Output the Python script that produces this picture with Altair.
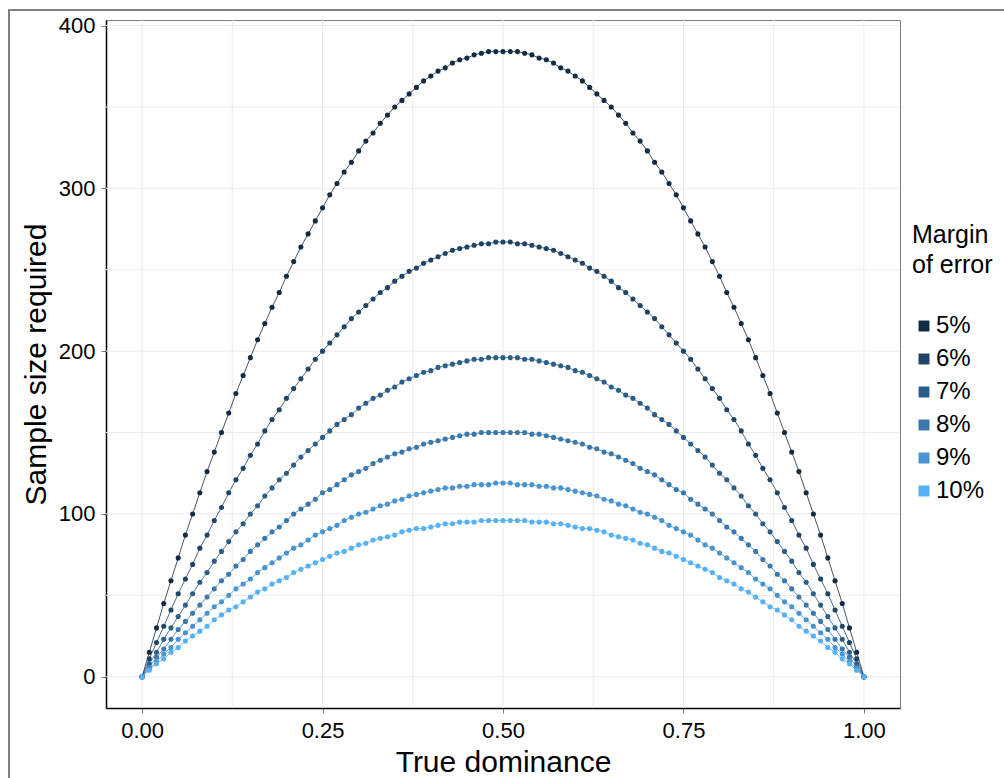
import altair as alt
import pandas as pd

dominance = [round(i * 0.01, 2) for i in range(101)]

margins = ["5%", "6%", "7%", "8%", "9%", "10%"]
colors = ["#132B43", "#1F4466", "#2C5E89", "#3A79AD", "#4894D2", "#56B1F7"]

n_5 = [0, 15, 30, 45, 59, 73, 87, 100, 113, 126, 138, 150, 162, 174, 185, 196, 207, 217, 227, 236, 246, 255, 264, 272, 280, 288, 296, 303, 310, 316, 323, 329, 334, 340, 345, 350, 354, 358, 362, 366, 369, 372, 374, 377, 379, 380, 382, 383, 384, 384, 384,
       384, 384, 383, 382, 380, 379, 377, 374, 372, 369, 366, 362, 358, 354, 350, 345, 340, 334, 329, 323, 316, 310, 303, 296, 288, 280, 272, 264, 255, 246, 236, 227, 217, 207, 196, 185, 174, 162, 150, 138, 126, 113, 100, 87, 73, 59, 45, 30, 15, 0]
n_6 = [0, 11, 21, 31, 41, 51, 60, 69, 79, 87, 96, 104, 113, 121, 128, 136, 143, 151, 158, 164, 171, 177, 183, 189, 195, 200, 205, 210, 215, 220, 224, 228, 232, 236, 239, 243, 246, 249, 251, 254, 256, 258, 260, 262, 263, 264, 265, 266, 266, 267, 267,
       267, 266, 266, 265, 264, 263, 262, 260, 258, 256, 254, 251, 249, 246, 243, 239, 236, 232, 228, 224, 220, 215, 210, 205, 200, 195, 189, 183, 177, 171, 164, 158, 151, 143, 136, 128, 121, 113, 104, 96, 87, 79, 69, 60, 51, 41, 31, 21, 11, 0]
n_7 = [0, 8, 15, 23, 30, 37, 44, 51, 58, 64, 71, 77, 83, 89, 94, 100, 105, 111, 116, 121, 125, 130, 135, 139, 143, 147, 151, 155, 158, 161, 165, 168, 171, 173, 176, 178, 181, 183, 185, 187, 188, 190, 191, 192, 193, 194, 195, 195, 196, 196, 196,
       196, 196, 195, 195, 194, 193, 192, 191, 190, 188, 187, 185, 183, 181, 178, 176, 173, 171, 168, 165, 161, 158, 155, 151, 147, 143, 139, 135, 130, 125, 121, 116, 111, 105, 100, 94, 89, 83, 77, 71, 64, 58, 51, 44, 37, 30, 23, 15, 8, 0]
n_8 = [0, 6, 12, 17, 23, 29, 34, 39, 44, 49, 54, 59, 63, 68, 72, 77, 81, 85, 89, 92, 96, 100, 103, 106, 109, 113, 115, 118, 121, 124, 126, 128, 131, 133, 135, 137, 138, 140, 141, 143, 144, 145, 146, 147, 148, 149, 149, 150, 150, 150, 150,
       150, 150, 150, 149, 149, 148, 147, 146, 145, 144, 143, 141, 140, 138, 137, 135, 133, 131, 128, 126, 124, 121, 118, 115, 113, 109, 106, 103, 100, 96, 92, 89, 85, 81, 77, 72, 68, 63, 59, 54, 49, 44, 39, 34, 29, 23, 17, 12, 6, 0]
n_9 = [0, 5, 9, 14, 18, 23, 27, 31, 35, 39, 43, 46, 50, 54, 57, 60, 64, 67, 70, 73, 76, 79, 81, 84, 87, 89, 91, 93, 96, 98, 100, 101, 103, 105, 106, 108, 109, 111, 112, 113, 114, 115, 116, 116, 117, 117, 118, 118, 118, 119, 119,
       119, 118, 118, 118, 117, 117, 116, 116, 115, 114, 113, 112, 111, 109, 108, 106, 105, 103, 101, 100, 98, 96, 93, 91, 89, 87, 84, 81, 79, 76, 73, 70, 67, 64, 60, 57, 54, 50, 46, 43, 39, 35, 31, 27, 23, 18, 14, 9, 5, 0]
n_10 = [0, 4, 8, 11, 15, 18, 22, 25, 28, 31, 35, 38, 41, 43, 46, 49, 52, 54, 57, 59, 61, 64, 66, 68, 70, 72, 74, 76, 77, 79, 81, 82, 84, 85, 86, 87, 89, 90, 91, 91, 92, 93, 94, 94, 95, 95, 95, 96, 96, 96, 96,
        96, 96, 96, 95, 95, 95, 94, 94, 93, 92, 91, 91, 90, 89, 87, 86, 85, 84, 82, 81, 79, 77, 76, 74, 72, 70, 68, 66, 64, 61, 59, 57, 54, 52, 49, 46, 43, 41, 38, 35, 31, 28, 25, 22, 18, 15, 11, 8, 4, 0]

x_grid = [0, 0.125, 0.25, 0.375, 0.5, 0.625, 0.75, 0.875, 1.0]
y_grid = [0, 50, 100, 150, 200, 250, 300, 350, 400]
x_ticks = [0, 0.25, 0.5, 0.75, 1.0]
y_ticks = [0, 100, 200, 300, 400]

series = [n_5, n_6, n_7, n_8, n_9, n_10]
rows = []
for m, vals in zip(margins, series):
    for p, v in zip(dominance, vals):
        rows.append({"p": p, "n": v, "margin": m})
df = pd.DataFrame(rows)

FONT = "Liberation Sans"
xscale = alt.Scale(domain=[-0.05, 1.05], nice=False, zero=False)
yscale = alt.Scale(domain=[-19.2, 403.4], nice=False, zero=False)

xgrid = alt.Chart(pd.DataFrame({"g": x_grid})).mark_rule(color="#EBEBEB", strokeWidth=1).encode(
    x=alt.X("g:Q", scale=xscale))
ygrid = alt.Chart(pd.DataFrame({"g": y_grid})).mark_rule(color="#EBEBEB", strokeWidth=1).encode(
    y=alt.Y("g:Q", scale=yscale))

color = alt.Color(
    "margin:N",
    scale=alt.Scale(domain=margins, range=colors),
    legend=alt.Legend(
        title=["Margin", "of error"],
        orient="none",
        legendX=806,
        legendY=203,
        symbolType="square",
        symbolSize=120,
        symbolStrokeWidth=0,
        titleFontSize=25,
        titleFont=FONT,
        titleFontWeight="normal",
        titleColor="black",
        titleLineHeight=30,
        titlePadding=36,
        labelFontSize=24,
        labelFont=FONT,
        labelColor="black",
        labelOffset=0,
        rowPadding=9,
    ),
)

base = alt.Chart(df).encode(
    x=alt.X("p:Q", scale=xscale,
            axis=alt.Axis(values=x_ticks, format=".2f", title="True dominance", grid=False)),
    y=alt.Y("n:Q", scale=yscale,
            axis=alt.Axis(values=y_ticks, title="Sample size required", grid=False)),
    color=color,
    detail="margin:N",
)

lines = base.mark_line(strokeWidth=0.8)
points = base.mark_circle(size=26, opacity=1)

frame = alt.Chart(pd.DataFrame({"a": [0]})).mark_rect(
    fill=None, stroke="#555555", strokeWidth=1.5
).encode(x=alt.value(-97), x2=alt.value(904), y=alt.value(-10), y2=alt.value(770))

chart = alt.layer(frame, xgrid, ygrid, lines, points).properties(
    width=794,
    height=688,
    autosize=alt.AutoSizeParams(type="none"),
    padding={"left": 106, "top": 20, "right": 104, "bottom": 70},
    background="white",
).configure_view(
    stroke="#7F7F7F", strokeWidth=1
).configure_axis(
    labelFont=FONT,
    titleFont=FONT,
    labelFontSize=22,
    titleFontSize=30,
    titleFontWeight="normal",
    labelColor="black",
    titleColor="black",
    domainColor="black",
    domainWidth=1.5,
    tickColor="#7F7F7F",
    tickSize=5,
    tickWidth=1,
).configure_axisX(
    labelPadding=7,
    titlePadding=6,
).configure_axisY(
    labelPadding=6,
    titlePadding=7,
)

chart.save("out.html", embed_options={"renderer": "svg", "actions": False})
